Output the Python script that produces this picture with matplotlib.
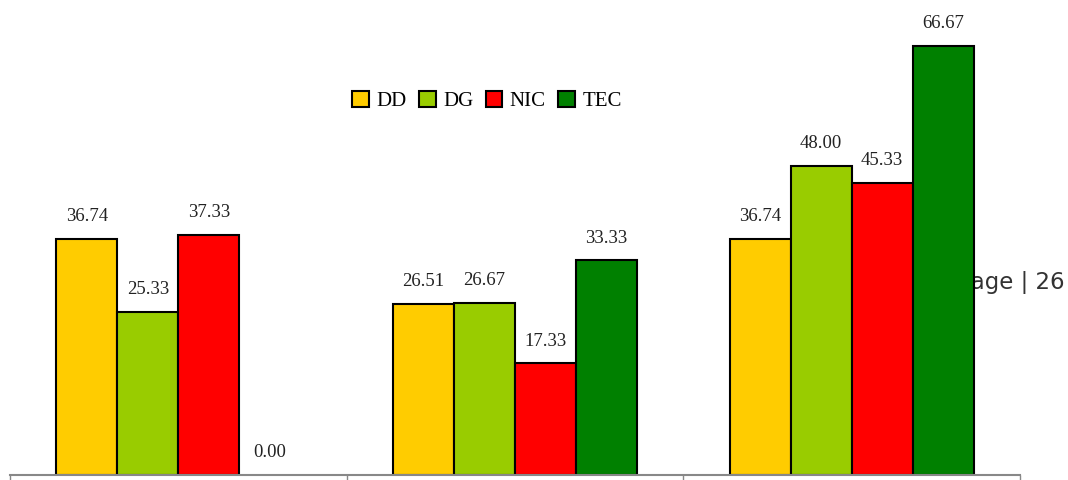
import matplotlib
matplotlib.use("Agg")
import matplotlib.pyplot as plt
from matplotlib.patches import Patch
import numpy as np

categories = ["A", "B", "C"]
series = ["DD", "DG", "NIC", "TEC"]
dd = [36.74, 26.51, 36.74]
dg = [25.33, 26.67, 48.00]
nic = [37.33, 17.33, 45.33]
tec = [0.00, 33.33, 66.67]
colors = ["#FFCC00", "#99CC00", "#FF0000", "#008000"]

W, H = 1068, 480
fig = plt.figure(figsize=(W / 100, H / 100), dpi=100)
ax = fig.add_axes([10 / W, 5 / H, 1010 / W, 475 / H])
ax.set_xlim(0, 3)
ax.set_ylim(0, 73.8)

serif = "Liberation Serif"
bw = 61 / 337
x = np.arange(len(categories)) + 0.5
for i, (name, vals, c) in enumerate(zip(series, [dd, dg, nic, tec], colors)):
    pos = x + (i - 1.5) * bw
    lws = [1.5 if v > 0 else 0 for v in vals]
    ax.bar(pos, vals, width=bw, color=c, edgecolor="black", linewidth=lws, zorder=3)
    for xp, v in zip(pos, vals):
        ax.annotate(f"{v:.2f}", (xp, v), xytext=(0, 10), textcoords="offset points",
                    ha="center", va="bottom", fontsize=13.5, family=serif, color="#222222")

for s in ["top", "left", "right"]:
    ax.spines[s].set_visible(False)
ax.spines["bottom"].set_color("#888888")
ax.spines["bottom"].set_linewidth(1.5)
ax.spines["bottom"].set_zorder(4)
ax.set_yticks([])
ax.set_xticks([0, 1, 2, 3])
ax.set_xticklabels([])
ax.tick_params(axis="x", direction="out", length=8, color="#888888", width=1)

ax.text((1065 - 10) / 1010 * 3, (475 - 282) / 475 * 73.8, "Page | 26",
        ha="right", va="center", fontsize=16.5, family="DejaVu Sans",
        color="#333333", clip_on=False, zorder=1)

handles = [Patch(facecolor=c, edgecolor="black", linewidth=1.5, label=n)
           for n, c in zip(series, colors)]
ax.legend(handles=handles, loc="center",
          bbox_to_anchor=((487 - 10) / 1010, (480 - 101 - 5) / 475),
          ncol=4, frameon=False, handlelength=0.8, handleheight=0.8,
          handletextpad=0.35, columnspacing=0.6,
          prop={"family": serif, "size": 15})

fig.savefig("out.png", dpi=100, facecolor="white")
